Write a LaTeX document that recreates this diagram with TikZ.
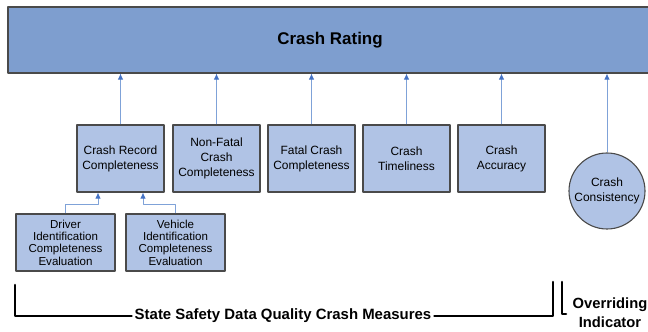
\documentclass[tikz,border=0pt]{standalone}
\usepackage{fontspec}
\setmainfont{Liberation Sans}
\usetikzlibrary{arrows.meta}
\definecolor{ratingblue}{HTML}{7E9ECF}
\definecolor{boxblue}{HTML}{B0C3E5}
\definecolor{edgegray}{HTML}{4A4A4A}
\definecolor{linkblue}{HTML}{7FA2D8}
\definecolor{tipblue}{HTML}{4472C4}
\begin{document}
\begin{tikzpicture}[>={Latex[length=6bp,width=5.5bp,color=tipblue]},line join=bevel,
    measure/.style={draw=edgegray,line width=1.1bp,fill=boxblue,rectangle,align=center,
      inner sep=0pt,minimum width=87bp,minimum height=67bp,
      font=\fontsize{12}{15}\selectfont},
    evalbox/.style={measure,minimum width=99bp,minimum height=57bp,
      font=\fontsize{11.6}{12.3}\selectfont},
    feed/.style={->,draw=linkblue,line width=0.9bp},
    brace/.style={line width=2.6bp,line cap=round},
    ]
    \useasboundingbox (0bp,0bp) rectangle (648bp,332bp);
    %%
    \node (rating) at (330.0bp,292.0bp) [draw=edgegray,line width=1.1bp,fill=ratingblue,rectangle,
      minimum width=644bp,minimum height=66bp,font=\fontsize{17}{20}\selectfont\bfseries] {Crash Rating};
    \node (record) at (120.5bp,173.5bp) [measure] {Crash Record\\Completeness};
    \node (nonfatal) at (216.5bp,173.5bp) [measure] {Non-Fatal\\Crash\\Completeness};
    \node (fatal) at (311.5bp,173.5bp) [measure] {Fatal Crash\\Completeness};
    \node (timely) at (406.5bp,173.5bp) [measure] {Crash\\Timeliness};
    \node (accuracy) at (501.5bp,173.5bp) [measure] {Crash\\Accuracy};
    \node (consist) at (607.0bp,141.0bp) [measure,circle,minimum size=76bp] {Crash\\Consistency};
    \node (driver) at (65.5bp,89.5bp) [evalbox] {Driver\\Identification\\Completeness\\Evaluation};
    \node (vehicle) at (175.5bp,89.5bp) [evalbox] {Vehicle\\Identification\\Completeness\\Evaluation};
    %%
    \foreach \m in {record,nonfatal,fatal,timely,accuracy,consist}
      \draw [feed] (\m) -- (\m |- rating.south);
    \draw [feed] (driver.north) -- ++(0bp,9bp) -| ([xshift=-22.5bp]record.south);
    \draw [feed] (vehicle.north) -- ++(0bp,9bp) -| ([xshift=22.5bp]record.south);
    %%
    \node (state) at (283.0bp,16.0bp) [font=\fontsize{15}{17}\selectfont\bfseries,inner sep=3bp] {State Safety Data Quality Crash Measures};
    \node (override) at (610.0bp,19.5bp) [font=\fontsize{14.8}{19}\selectfont\bfseries,align=center,inner sep=0pt] {Overriding\\Indicator};
    \coordinate (lefttop) at (15.0bp,47.0bp);
    \coordinate (righttop) at (553.0bp,50.0bp);
    \coordinate (indtop) at (562.0bp,50.0bp);
    \draw [brace] (lefttop) |- (state.west);
    \draw [brace] (state.east) -| (righttop);
    \draw [brace] (indtop) -- ++(0bp,-32bp) -- ++(4bp,0bp);
    %
\end{tikzpicture}
\end{document}
